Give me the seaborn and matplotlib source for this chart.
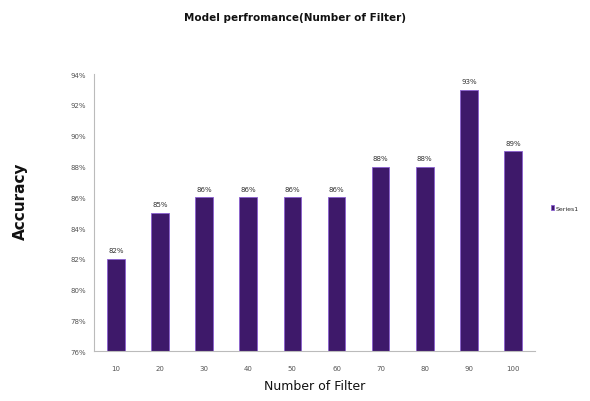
import matplotlib
matplotlib.use("Agg")
import matplotlib.pyplot as plt
import seaborn as sns
import pandas as pd
from matplotlib.ticker import FuncFormatter

# data
filters = ['10', '20', '30', '40', '50', '60', '70', '80', '90', '100']
accuracy = [82, 85, 86, 86, 86, 86, 88, 88, 93, 89]
yticks = [76, 78, 80, 82, 84, 86, 88, 90, 92, 94]

df = pd.DataFrame({'Number of Filter': filters, 'Accuracy': accuracy})

sns.set_style("white")
plt.rcParams['font.family'] = ['DejaVu Sans']

fig = plt.figure(figsize=(5.9, 4.02), dpi=100)
ax = fig.add_axes([0.159, 0.124, 0.748, 0.689])

sns.barplot(data=df, x='Number of Filter', y='Accuracy', color='#3c0c78',
            width=0.4, edgecolor='#8a5fd0', linewidth=0.6, ax=ax,
            label='Series1')

ax.set_ylim(76, 94)
ax.set_yticks(yticks)
ax.yaxis.set_major_formatter(FuncFormatter(lambda v, p: f'{v:.0f}%'))
ax.set_xlim(-0.5, len(filters) - 0.5)

for i, v in enumerate(accuracy):
    ax.text(i, v + 0.35, f'{v}%', ha='center', va='bottom', fontsize=5, color='#333333')

for s in ['top', 'right']:
    ax.spines[s].set_visible(False)
for s in ['left', 'bottom']:
    ax.spines[s].set_color('#bbbbbb')
    ax.spines[s].set_linewidth(0.8)

ax.tick_params(axis='y', labelsize=5, colors='#555555', length=2, width=0.6, color='#bbbbbb')
ax.tick_params(axis='x', labelsize=5, colors='#555555', length=0, pad=10)
# minor ticks between categories on x axis
ax.set_xticks([i + 0.5 for i in range(len(filters))], minor=True)
ax.tick_params(axis='x', which='minor', length=3, width=0.6, color='#bbbbbb')

ax.set_xlabel('Number of Filter', fontsize=9, color='#111111', labelpad=6)
ax.set_ylabel('')
fig.text(0.035, 0.5, 'Accuracy', rotation=90, fontsize=11, fontweight='bold',
         ha='center', va='center', color='#111111')
fig.text(0.5, 0.955, 'Model perfromance(Number of Filter)', fontsize=7.5,
         fontweight='semibold', ha='center', va='center', color='#111111')

leg = ax.legend(loc='center left', bbox_to_anchor=(1.03, 0.516), frameon=False,
                fontsize=4.5, handlelength=0.5, handleheight=0.8, handletextpad=0.2,
                borderaxespad=0)

fig.savefig('out.png', dpi=100, facecolor='white')
